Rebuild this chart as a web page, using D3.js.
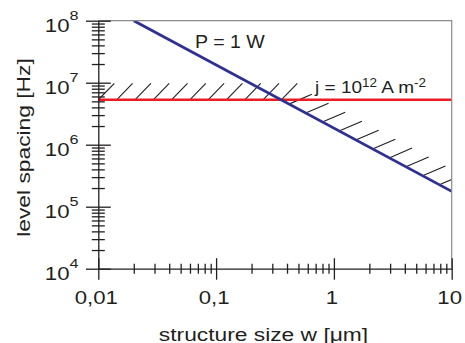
<!DOCTYPE html>
<html>
<head>
<meta charset="utf-8">
<script src="https://cdn.jsdelivr.net/npm/d3@7"></script>
<style>
   body { margin: 0; background: #fff; }
   svg { display: block; font-family: "Liberation Sans", Arial, Helvetica, sans-serif; }
</style>
</head>
<body>
<svg id="chart" width="465" height="343"></svg>
<script>
/*global d3*/
// axis ranges and labels
var xDomain = [0.01, 10];
var yDomain = [1e4, 1e8];
var xTickValues = [0.01, 0.1, 1, 10];
var xTickLabels = ["0,01", "0,1", "1", "10"];
var yTickValues = [1e4, 1e5, 1e6, 1e7, 1e8];
var yTickExponents = ["4", "5", "6", "7", "8"];

// P = 1 W limit (straight on log-log) and current density limit
var powerLine = [[0.02, 1e8], [10, 1.77e5]];
var currentLevel = 5.3e6;
var currentLine = [[0.01, currentLevel], [10, currentLevel]];

(function () {
   "use strict";

   var svg = d3.select("#chart"),
      x = d3.scaleLog().domain(xDomain).range([98.3, 451.7]),
      y = d3.scaleLog().domain(yDomain).range([268.7, 20.7]),
      line = d3.line().x(function (d) { return x(d[0]); }).y(function (d) { return y(d[1]); }),
      left = x(xDomain[0]), right = x(xDomain[1]),
      top = y(yDomain[1]), bottom = y(yDomain[0]),
      hatch, p0, p1, xInt, px, k, gx, gy;

   function isMajor(v) {
      var l = Math.log10(v);
      return Math.abs(l - Math.round(l)) < 1e-6;
   }

   // stretched text, the original lettering is wider than Helvetica
   function label(g, px, py, anchor, size, sx, rot) {
      var t = g.append("text")
         .attr("transform", "translate(" + px + "," + py + ")" + (rot ? " rotate(" + rot + ")" : "") + " scale(" + sx + ",1)")
         .attr("text-anchor", anchor)
         .attr("font-size", size)
         .attr("fill", "#231f20");
      return t;
   }

   svg.append("clipPath").attr("id", "plotclip")
      .append("rect").attr("x", left).attr("y", top)
      .attr("width", right - left).attr("height", bottom - top);

   // hatching along the lower of the two limits
   hatch = svg.append("g").attr("clip-path", "url(#plotclip)")
      .attr("stroke", "#231f20").attr("stroke-width", 1.1);

   p0 = [x(powerLine[0][0]), y(powerLine[0][1])];
   p1 = [x(powerLine[1][0]), y(powerLine[1][1])];
   function yBlue(px) {
      return p0[1] + (px - p0[0]) * (p1[1] - p0[1]) / (p1[0] - p0[0]);
   }
   xInt = p0[0] + (y(currentLevel) - p0[1]) * (p1[0] - p0[0]) / (p1[1] - p0[1]);

   for (k = 0; left + k * 18.3 <= xInt + 1; k++) {
      px = left + k * 18.3;
      hatch.append("line")
         .attr("x1", px).attr("y1", y(currentLevel))
         .attr("x2", px + 16).attr("y2", y(currentLevel) - 16.5);
   }
   for (px = xInt + 9; px < right; px += 16.7) {
      hatch.append("line")
         .attr("x1", px).attr("y1", yBlue(px) - 1)
         .attr("x2", px + 21.7).attr("y2", yBlue(px) - 10.3);
   }

   // limit lines
   svg.append("path").datum(currentLine)
      .attr("clip-path", "url(#plotclip)")
      .attr("d", line).attr("fill", "none")
      .attr("stroke", "#ed1c24").attr("stroke-width", 2.6);

   svg.append("path").datum(powerLine)
      .attr("clip-path", "url(#plotclip)")
      .attr("d", line).attr("fill", "none")
      .attr("stroke", "#2e3192").attr("stroke-width", 2.8);

   // grey frame top and right
   svg.append("path")
      .attr("d", "M" + left + "," + top + "H" + right + "V" + bottom)
      .attr("fill", "none").attr("stroke", "#8a8a8a").attr("stroke-width", 1.2);

   // axes, ticks crossing the axis line
   gx = svg.append("g").attr("transform", "translate(0," + bottom + ")")
      .call(d3.axisBottom(x).tickValues(x.ticks()).tickFormat("").tickSizeOuter(0));
   gx.selectAll(".tick line")
      .attr("y1", function (d) { return isMajor(d) ? -10.5 : -5; })
      .attr("y2", function (d) { return isMajor(d) ? 11 : 5; });

   gy = svg.append("g").attr("transform", "translate(" + left + ",0)")
      .call(d3.axisLeft(y).tickValues(y.ticks()).tickFormat("").tickSizeOuter(0));
   gy.selectAll(".tick line")
      .attr("x1", function (d) { return isMajor(d) ? -12.3 : -6.5; })
      .attr("x2", function (d) { return isMajor(d) ? 12.5 : 6.5; });

   [gx, gy].forEach(function (g) {
      g.selectAll(".domain, .tick line").attr("stroke", "#231f20").attr("stroke-width", 1.3);
   });

   // tick labels
   xTickValues.forEach(function (v, i) {
      label(svg, x(v) - 2, 303.5, "middle", 18.5, 1.2).text(xTickLabels[i]);
   });
   yTickValues.forEach(function (v, i) {
      var t = label(svg, 78.5, y(v) + 11.7, "end", 18.5, 1.2);
      t.append("tspan").text("10");
      t.append("tspan").attr("dy", -12.3).attr("font-size", 13.5).text(yTickExponents[i]);
   });

   // axis titles
   label(svg, 263.5, 340.5, "middle", 19, 1.2).text("structure size w [\u03bcm]");
   label(svg, 30, 147.5, "middle", 19, 1.2, -90).text("level spacing [Hz]");

   // curve labels
   label(svg, 195, 48, "start", 17.5, 1.12).text("P = 1 W");
   (function () {
      var t = label(svg, 315, 92.5, "start", 17, 1.12);
      t.append("tspan").text("j = 10");
      t.append("tspan").attr("dy", -6).attr("font-size", 12).text("12");
      t.append("tspan").attr("dy", 6).text(" A m");
      t.append("tspan").attr("dy", -6).attr("font-size", 12).text("-2");
   }());
}());
</script>
</body>
</html>
